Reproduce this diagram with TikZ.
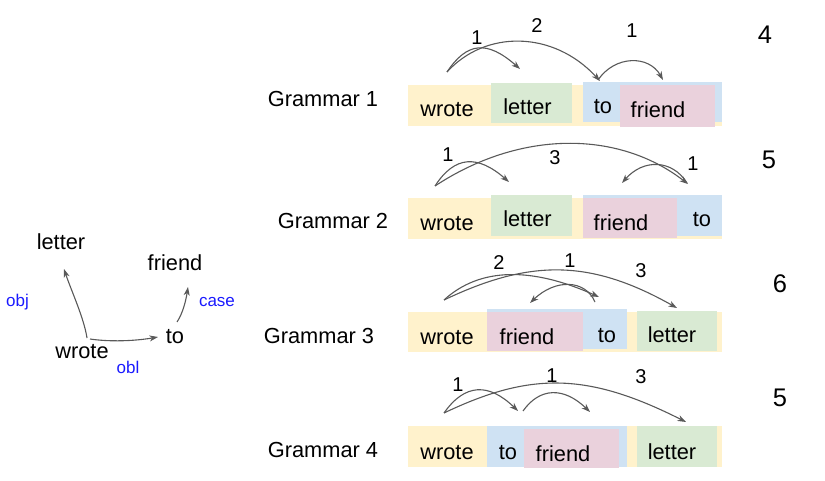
\documentclass[tikz,border=0pt]{standalone}
\usepackage{fontspec}
\setmainfont{Liberation Sans}
\usetikzlibrary{arrows.meta}
\definecolor{yel}{HTML}{FFF2CC}
\definecolor{grn}{HTML}{D9EAD3}
\definecolor{blu}{HTML}{CFE2F3}
\definecolor{pnk}{HTML}{EAD1DC}
\definecolor{arcgray}{HTML}{595959}
\definecolor{relblue}{HTML}{1A1AFF}
\begin{document}
\begin{tikzpicture}[x=1pt,y=-1pt,
  word/.style={anchor=base, inner sep=0pt, font=\fontsize{21.8}{24}\selectfont},
  num/.style={anchor=base, inner sep=0pt, font=\fontsize{20}{22}\selectfont},
  score/.style={anchor=base, inner sep=0pt, font=\fontsize{25.5}{28}\selectfont},
  rel/.style={anchor=base, inner sep=0pt, text=relblue, font=\fontsize{17}{20}\selectfont},
  arc/.style={draw=arcgray, line width=1.1pt, -{Stealth[length=8.5pt,width=6pt,inset=2.5pt]}},
]
\useasboundingbox (0,0) rectangle (825,481);

% ---------------- tree ----------------
\node[word] (tletter) at (61,250) {letter};
\node[word] (tfriend) at (175,270.7) {friend};
\node[word] (tto) at (175,343) {to};
\node[word] (twrote) at (82,358) {wrote};
\node[rel] (lobj) at (17.5,306.7) {obj};
\node[rel] (lcase) at (217,306.7) {case};
\node[rel] (lobl) at (128,373) {obl};
\coordinate (tw1) at (87,338);
\coordinate (tw2) at (90,339);
\coordinate (tl) at (64,269);
\coordinate (tt) at (158,337);
\coordinate (tt2) at (177,322);
\coordinate (tf) at (188,287);
\draw[arc] (tw1) .. controls (84,318) and (71,290) .. (tl);
\draw[arc] (tw2) .. controls (110,342) and (135,341) .. (tt);
\draw[arc] (tt2) .. controls (183,313) and (186,300) .. (tf);

% ---------------- Grammar 1 ----------------
\node[word] (g1) at (323,106.5) {Grammar 1};
\fill[yel] (408,85) rectangle (722,126);
\fill[grn] (491,83) rectangle (572,123);
\fill[blu] (583,82) rectangle (722,122);
\fill[pnk] (620,85) rectangle (715,127);
\node[word] (g1wrote) at (447,117) {wrote};
\node[word] (g1letter) at (527.5,115) {letter};
\node[word] (g1to) at (603,114) {to};
\node[word] (g1friend) at (658,118) {friend};
\coordinate (g1s) at (447,72);
\coordinate (g1l) at (520,69);
\coordinate (g1t) at (600,81);
\coordinate (g1t2) at (598,80);
\coordinate (g1f) at (663,80);
\draw[arc] (g1s) .. controls (467,42) and (487,40) .. (g1l);
\draw[arc] (g1s) .. controls (485,30) and (553,30) .. (g1t);
\draw[arc] (g1t2) .. controls (615,55) and (649,55) .. (g1f);
\node[num] (g1n1) at (477,45) {1};
\node[num] (g1n2) at (537,32.7) {2};
\node[num] (g1n3) at (632,38) {1};
\node[score] (g1sc) at (765,43.3) {4};

% ---------------- Grammar 2 ----------------
\node[word] (g2) at (333,229) {Grammar 2};
\fill[yel] (408,198) rectangle (722,239);
\fill[grn] (491,195) rectangle (572,236);
\fill[blu] (583,195) rectangle (722,236);
\fill[pnk] (583,198) rectangle (677,238);
\node[word] (g2wrote) at (447,231) {wrote};
\node[word] (g2letter) at (527.5,227) {letter};
\node[word] (g2friend) at (621,231) {friend};
\node[word] (g2to) at (702,227) {to};
\coordinate (g2s) at (435,186);
\coordinate (g2l) at (509,182);
\coordinate (g2t) at (688,184);
\coordinate (g2t2) at (687,183);
\coordinate (g2f) at (622,183);
\draw[arc] (g2s) .. controls (455,155) and (478,155) .. (g2l);
\draw[arc] (g2s) .. controls (520,130) and (618,130) .. (g2t);
\draw[arc] (g2t2) .. controls (672,159) and (643,159) .. (g2f);
\node[num] (g2n1) at (448,162) {1};
\node[num] (g2n2) at (555,165) {3};
\node[num] (g2n3) at (693,171) {1};
\node[score] (g2sc) at (769,169) {5};

% ---------------- Grammar 3 ----------------
\node[word] (g3) at (319,343) {Grammar 3};
\fill[yel] (408,312) rectangle (722,352);
\fill[blu] (487,309) rectangle (627,349);
\fill[pnk] (487,312) rectangle (583,351);
\fill[grn] (637,311) rectangle (717,351);
\node[word] (g3wrote) at (447,344) {wrote};
\node[word] (g3friend) at (527,344) {friend};
\node[word] (g3to) at (607,342) {to};
\node[word] (g3letter) at (672,342) {letter};
\coordinate (g3s) at (444,300);
\coordinate (g3t) at (599,297);
\coordinate (g3l) at (677,308);
\coordinate (g3t2) at (595,302);
\coordinate (g3f) at (530,303);
\draw[arc] (g3s) .. controls (480,267) and (532,267) .. (g3t);
\draw[arc] (g3s) .. controls (530,259) and (590,259) .. (g3l);
\draw[arc] (g3t2) .. controls (585,279) and (555,279) .. (g3f);
\node[num] (g3n1) at (499,270) {2};
\node[num] (g3n2) at (570,268) {1};
\node[num] (g3n3) at (641,278) {3};
\node[score] (g3sc) at (780,293) {6};

% ---------------- Grammar 4 ----------------
\node[word] (g4) at (323,457) {Grammar 4};
\fill[yel] (408,426) rectangle (722,467);
\fill[blu] (487,426) rectangle (627,467);
\fill[pnk] (524,429) rectangle (619,468);
\fill[grn] (637,426) rectangle (717,467);
\node[word] (g4wrote) at (447,459) {wrote};
\node[word] (g4to) at (508,459) {to};
\node[word] (g4friend) at (563,461) {friend};
\node[word] (g4letter) at (672,459) {letter};
\coordinate (g4s) at (444,413);
\coordinate (g4t) at (518,411);
\coordinate (g4t2) at (523,411);
\coordinate (g4f) at (590,412);
\coordinate (g4l) at (686,422);
\draw[arc] (g4s) .. controls (465,383) and (489,383) .. (g4t);
\draw[arc] (g4t2) .. controls (540,387) and (564,387) .. (g4f);
\draw[arc] (g4s) .. controls (530,372) and (587,372) .. (g4l);
\node[num] (g4n1) at (458,391) {1};
\node[num] (g4n2) at (552,382) {1};
\node[num] (g4n3) at (641,383) {3};
\node[score] (g4sc) at (780,406) {5};
\end{tikzpicture}
\end{document}
